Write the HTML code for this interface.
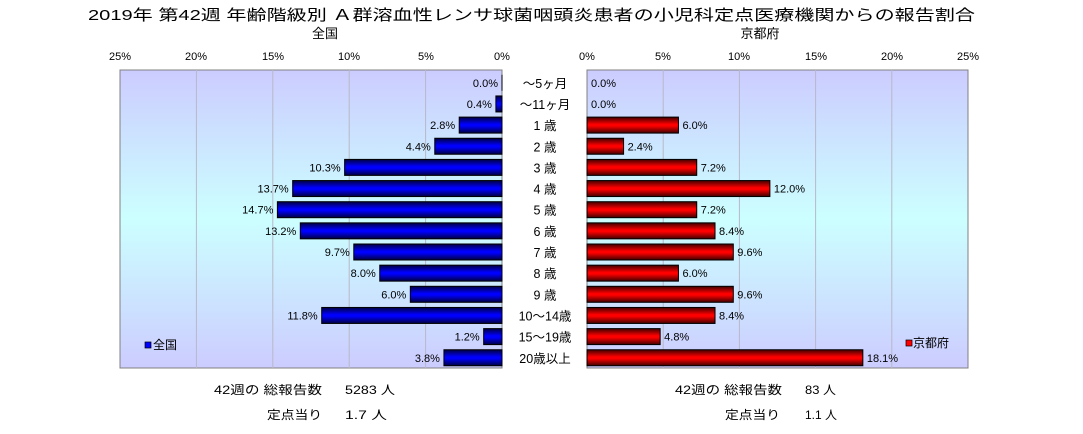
<!DOCTYPE html>
<html><head><meta charset="utf-8"><style>
body{margin:0;background:#fff}
svg text{font-family:"Liberation Sans","Noto Sans CJK JP",sans-serif;fill:#000}
</style></head><body>
<svg width="1083" height="429" xmlns="http://www.w3.org/2000/svg">
<defs>
<linearGradient id="bg" x1="0" y1="0" x2="0" y2="1">
<stop offset="0" stop-color="#ccccff"/><stop offset="0.5" stop-color="#ccffff"/><stop offset="1" stop-color="#ccccff"/>
</linearGradient>
<linearGradient id="bl" x1="0" y1="0" x2="0" y2="1">
<stop offset="0" stop-color="#000040"/><stop offset="0.45" stop-color="#0000ff"/><stop offset="0.55" stop-color="#0000ff"/><stop offset="1" stop-color="#000040"/>
</linearGradient>
<linearGradient id="rd" x1="0" y1="0" x2="0" y2="1">
<stop offset="0" stop-color="#400000"/><stop offset="0.45" stop-color="#ff0000"/><stop offset="0.55" stop-color="#ff0000"/><stop offset="1" stop-color="#400000"/>
</linearGradient>
</defs>
<text x="88" y="20" font-size="15" textLength="887" lengthAdjust="spacingAndGlyphs">2019年 第42週 年齢階級別 Ａ群溶血性レンサ球菌咽頭炎患者の小児科定点医療機関からの報告割合</text>
<text x="325" y="38" font-size="13" text-anchor="middle">全国</text>
<text x="760" y="38" font-size="13" text-anchor="middle">京都府</text>
<rect x="120" y="70" width="382" height="298" fill="url(#bg)" stroke="#808080"/>
<rect x="587" y="70" width="381" height="298" fill="url(#bg)" stroke="#808080"/>
<g stroke="#b8b8c8">
<line x1="196.4" y1="70" x2="196.4" y2="368"/><line x1="272.8" y1="70" x2="272.8" y2="368"/><line x1="349.2" y1="70" x2="349.2" y2="368"/><line x1="425.6" y1="70" x2="425.6" y2="368"/>
<line x1="663.2" y1="70" x2="663.2" y2="368"/><line x1="739.4" y1="70" x2="739.4" y2="368"/><line x1="815.6" y1="70" x2="815.6" y2="368"/><line x1="891.8" y1="70" x2="891.8" y2="368"/>
</g>
<g font-size="11" text-anchor="middle">
<text x="120" y="60">25%</text><text x="196" y="60">20%</text><text x="273" y="60">15%</text><text x="349" y="60">10%</text><text x="426" y="60">5%</text><text x="502" y="60">0%</text>
<text x="587" y="60">0%</text><text x="663" y="60">5%</text><text x="739" y="60">10%</text><text x="816" y="60">15%</text><text x="892" y="60">20%</text><text x="968" y="60">25%</text>
</g>
<g id="bars"></g>
<rect x="145" y="342" width="6" height="6" fill="#0000ff" stroke="#000" stroke-width="0.7"/>
<text x="153" y="349" font-size="12">全国</text>
<rect x="906" y="340" width="6" height="6" fill="#ff0000" stroke="#000" stroke-width="0.7"/>
<text x="913" y="347" font-size="12">京都府</text>
<g font-size="12">
<text x="214" y="394" textLength="108" lengthAdjust="spacingAndGlyphs">42週の 総報告数</text><text x="345" y="394" textLength="50" lengthAdjust="spacingAndGlyphs">5283 人</text>
<text x="267" y="419" textLength="55" lengthAdjust="spacingAndGlyphs">定点当り</text><text x="345" y="419" textLength="42" lengthAdjust="spacingAndGlyphs">1.7 人</text>
<text x="675" y="394" textLength="107" lengthAdjust="spacingAndGlyphs">42週の 総報告数</text><text x="805" y="394" textLength="31" lengthAdjust="spacingAndGlyphs">83 人</text>
<text x="725" y="419" textLength="55" lengthAdjust="spacingAndGlyphs">定点当り</text><text x="805" y="419" textLength="32" lengthAdjust="spacingAndGlyphs">1.1 人</text>
</g>
</svg>
<script>
const L=[0.0,0.4,2.8,4.4,10.3,13.7,14.7,13.2,9.7,8.0,6.0,11.8,1.2,3.8];
const R=[0.0,0.0,6.0,2.4,7.2,12.0,7.2,8.4,9.6,6.0,9.6,8.4,4.8,18.1];
const C=["～5ヶ月","～11ヶ月","1 歳","2 歳","3 歳","4 歳","5 歳","6 歳","7 歳","8 歳","9 歳","10～14歳","15～19歳","20歳以上"];
let s="";
for(let i=0;i<14;i++){
 const cy=82.8+21.15*i, y=cy-8;
 const lw=L[i]*15.28, rw=R[i]*15.24;
 if(lw>0)s+=`<rect x="${502-lw}" y="${y}" width="${lw}" height="16" fill="url(#bl)" stroke="#000"/>`;
 else s+=`<line x1="502" y1="${y}" x2="502" y2="${y+16}" stroke="#000"/>`;
 if(rw>0)s+=`<rect x="587" y="${y}" width="${rw}" height="16" fill="url(#rd)" stroke="#000"/>`;
 s+=`<text x="${502-lw-4}" y="${cy+4}" font-size="11" text-anchor="end">${L[i].toFixed(1)}%</text>`;
 s+=`<text x="${587+rw+4}" y="${cy+4}" font-size="11">${R[i].toFixed(1)}%</text>`;
 s+=`<text x="545" y="${cy+5}" font-size="12.5" text-anchor="middle">${C[i]}</text>`;
}
document.getElementById("bars").innerHTML=s;
</script>
</body></html>
